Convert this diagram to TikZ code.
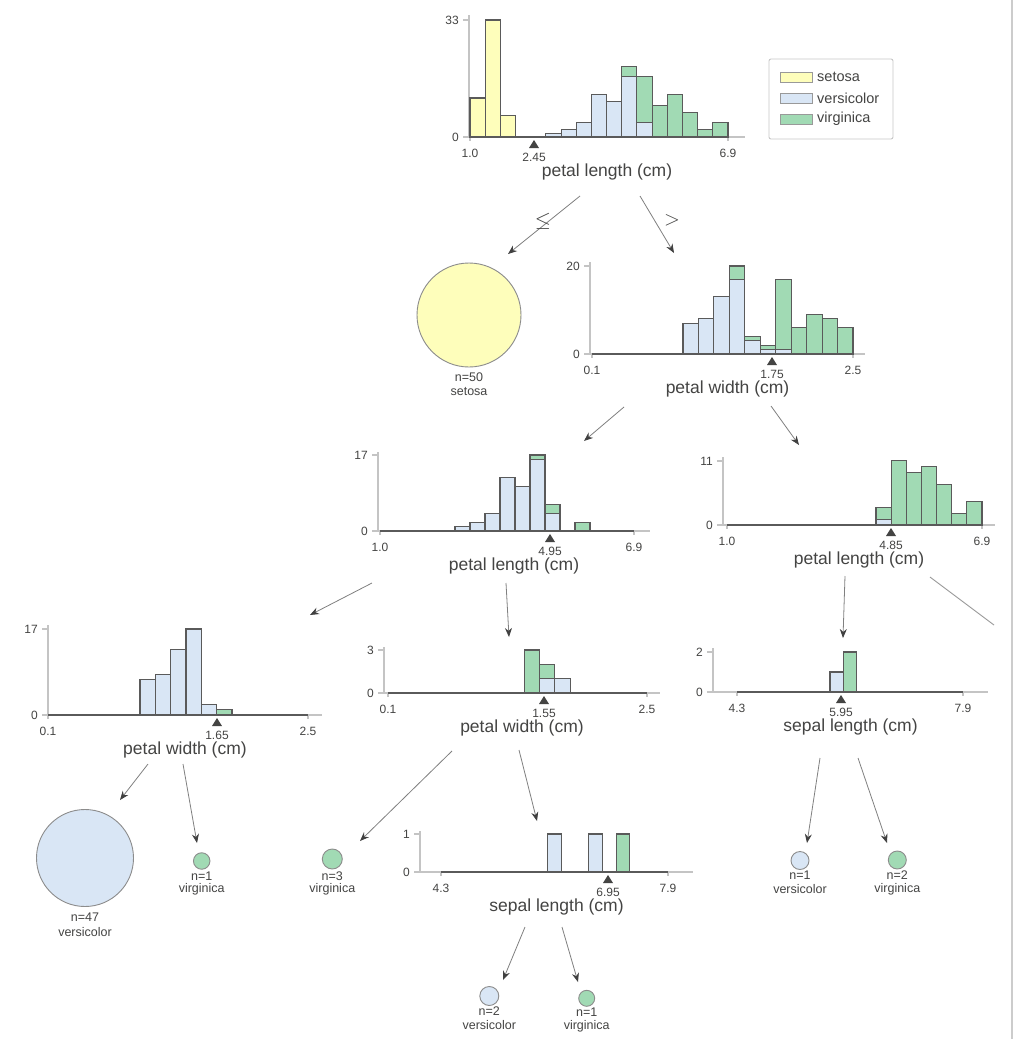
\documentclass[tikz,border=0pt]{standalone}
\usepackage{fontspec}
\setmainfont{Liberation Sans}
\usetikzlibrary{arrows.meta}
\definecolor{cset}{HTML}{FEFEBB}
\definecolor{cver}{HTML}{D9E6F5}
\definecolor{cvir}{HTML}{A1DAB4}
\definecolor{txt}{HTML}{444443}
\definecolor{edgec}{HTML}{5A5A5A}
\definecolor{axc}{HTML}{C4C4C4}
\definecolor{arrc}{HTML}{808080}
\tikzset{
 bar/.style={draw=edgec, line width=1.1pt},
 axisline/.style={draw=axc, line width=1.2pt},
 zeroline/.style={draw=edgec, line width=1.4pt},
 ticklab/.style={font=\fontsize{12}{12}\selectfont, text=txt, inner sep=0pt},
 axtitle/.style={font=\fontsize{17.5}{18}\selectfont, text=txt, inner sep=0pt},
 leaftext/.style={font=\fontsize{12.5}{13}\selectfont, text=txt, inner sep=0pt},
 legtext/.style={font=\fontsize{14.5}{15}\selectfont, text=txt, inner sep=0pt, anchor=west},
 leaf/.style={circle, draw=black!45, line width=0.9pt, inner sep=0pt},
 conn/.style={draw=arrc, line width=0.8pt, -{Stealth[length=9pt,width=7pt,color=black!75]}},
 plainconn/.style={draw=arrc!80, line width=0.9pt},
 cmpsign/.style={font=\fontsize{22}{22}\selectfont, text=txt, inner sep=0pt},
}
% #1 x0, #2 width, #3 base, #4 px per unit, #5 setosa, #6 versicolor, #7 virginica
\newcommand\irisbar[7]{%
 \pgfmathsetmacro\irisxa{#1+#2}%
 \pgfmathsetmacro\irisya{#3-#4*#5}%
 \pgfmathsetmacro\irisyb{\irisya-#4*#6}%
 \pgfmathsetmacro\irisyc{\irisyb-#4*#7}%
 \ifnum#5>0 \draw[bar,fill=cset] (#1,#3) rectangle (\irisxa,\irisya);\fi
 \ifnum#6>0 \draw[bar,fill=cver] (#1,\irisya) rectangle (\irisxa,\irisyb);\fi
 \ifnum#7>0 \draw[bar,fill=cvir] (#1,\irisyb) rectangle (\irisxa,\irisyc);\fi
}
% #1 name, #2 ax, #3 top, #4 base, #5 xend, #6 xmin, #7 xmax, #8 top tick y, #9 top label
\newcommand\irisaxes[9]{%
 \def\irisax{#2}\def\irisxend{#5}%
 \draw[axisline] (#2,#3) -- (#2,#4) -- (#5,#4);
 \draw[axisline] (#2-6,#8) -- (#2,#8);
 \draw[axisline] (#2-6,#4) -- (#2,#4);
 \draw[axisline] (#6,#4) -- (#6,#4+4);
 \draw[axisline] (#7,#4) -- (#7,#4+4);
 \node[ticklab,anchor=east] (#1-ytop) at (#2-10,#8) {#9};
 \node[ticklab,anchor=east] (#1-yzero) at (#2-10,#4) {0};
 \draw[zeroline] (#6,#4) -- (#7,#4);
}
% #1 name, #2 xmin, #3 xmax, #4 base, #5 lmin, #6 lmax, #7 xsplit, #8 lsplit, #9 title
\newcommand\irisxlabs[9]{%
 \node[ticklab] (#1-lo) at (#2,#4+16) {#5};
 \node[ticklab] (#1-hi) at (#3,#4+16) {#6};
 \fill[txt] (#7,#4+3) -- (#7+5,#4+11) -- (#7-5,#4+11) -- cycle;
 \node[ticklab] (#1-split) at (#7,#4+20) {#8};
 \node[axtitle] (#1) at (\irisax/2+\irisxend/2,#4+35) {#9};
}
\begin{document}
\begin{tikzpicture}[x=1pt,y=-1pt]
\useasboundingbox (0,0) rectangle (1014,1039);
\fill[white] (0,0) rectangle (1014,1039);
\draw[draw=black!20, line width=2pt] (1011.5,0) -- (1011.5,1039);

% ---------- Panel 1: root, petal length
\irisaxes{p1}{469}{15}{137}{745}{470}{728}{20}{33}
\foreach \i/\ny/\nb/\ng in {0/11/0/0,1/33/0/0,2/6/0/0,5/0/1/0,6/0/2/0,7/0/4/0,8/0/12/0,9/0/10/0,10/0/17/3,11/0/4/13,12/0/0/9,13/0/0/12,14/0/0/7,15/0/0/2,16/0/0/4}{%
 \pgfmathsetmacro\xo{470+\i*15.176}\irisbar{\xo}{15.176}{137}{3.545}{\ny}{\nb}{\ng}}
\irisxlabs{p1}{470}{728}{137}{1.0}{6.9}{534}{2.45}{petal length (cm)}

% legend
\draw[draw=black!22, line width=0.9pt, fill=white, rounded corners=2pt] (769,59) rectangle (893,139);
\draw[draw=black!40, line width=0.8pt, fill=cset] (780,72) rectangle (812,82);
\draw[draw=black!40, line width=0.8pt, fill=cver] (780,93) rectangle (812,103);
\draw[draw=black!40, line width=0.8pt, fill=cvir] (780,114) rectangle (812,124);
\node[legtext] (lg1) at (817,77) {setosa};
\node[legtext] (lg2) at (817,98) {versicolor};
\node[legtext] (lg3) at (817,119) {virginica};

% ---------- Panel 2: petal width
\irisaxes{p2}{590}{262}{354}{865}{592}{853}{266}{20}
\foreach \i/\ny/\nb/\ng in {0/0/7/0,1/0/8/0,2/0/13/0,3/0/17/3,4/0/3/1,5/0/1/1,6/0/1/16,7/0/0/6,8/0/0/9,9/0/0/8,10/0/0/6}{%
 \pgfmathsetmacro\xo{683+\i*15.45}\irisbar{\xo}{15.45}{354}{4.4}{\ny}{\nb}{\ng}}
\irisxlabs{p2}{592}{853}{354}{0.1}{2.5}{772}{1.75}{petal width (cm)}

% ---------- Panel 3: petal length (left)
\irisaxes{p3}{378}{452}{531}{650}{380}{634}{455}{17}
\foreach \i/\ny/\nb/\ng in {0/0/1/0,1/0/2/0,2/0/4/0,3/0/12/0,4/0/10/0,5/0/16/1,6/0/4/2,8/0/0/2}{%
 \pgfmathsetmacro\xo{455+\i*15}\irisbar{\xo}{15}{531}{4.47}{\ny}{\nb}{\ng}}
\irisxlabs{p3}{380}{634}{531}{1.0}{6.9}{550}{4.95}{petal length (cm)}

% ---------- Panel 4: petal length (right)
\irisaxes{p4}{723}{457}{525}{995}{727}{982}{461}{11}
\foreach \i/\ny/\nb/\ng in {0/0/1/2,1/0/0/11,2/0/0/9,3/0/0/10,4/0/0/7,5/0/0/2,6/0/0/4}{%
 \pgfmathsetmacro\xo{876+\i*15.14}\irisbar{\xo}{15.14}{525}{5.85}{\ny}{\nb}{\ng}}
\irisxlabs{p4}{727}{982}{525}{1.0}{6.9}{891}{4.85}{petal length (cm)}

% ---------- Panel 5: petal width
\irisaxes{p5}{48}{625}{715}{322}{48}{308}{629}{17}
\foreach \i/\ny/\nb/\ng in {0/0/7/0,1/0/8/0,2/0/13/0,3/0/17/0,4/0/2/0,5/0/0/1}{%
 \pgfmathsetmacro\xo{140+\i*15.33}\irisbar{\xo}{15.33}{715}{5.06}{\ny}{\nb}{\ng}}
\irisxlabs{p5}{48}{308}{715}{0.1}{2.5}{217}{1.65}{petal width (cm)}

% ---------- Panel 6: petal width
\irisaxes{p6}{384}{647}{693}{660}{388}{647}{650}{3}
\foreach \i/\ny/\nb/\ng in {0/0/0/3,1/0/1/1,2/0/1/0}{%
 \pgfmathsetmacro\xo{524.5+\i*15.2}\irisbar{\xo}{15.2}{693}{14.33}{\ny}{\nb}{\ng}}
\irisxlabs{p6}{388}{647}{693}{0.1}{2.5}{544}{1.55}{petal width (cm)}

% ---------- Panel 7: sepal length
\irisaxes{p7}{713}{648}{692}{988}{737}{963}{652}{2}
\foreach \i/\ny/\nb/\ng in {0/0/1/0,1/0/0/2}{%
 \pgfmathsetmacro\xo{830+\i*13.4}\irisbar{\xo}{13.4}{692}{20}{\ny}{\nb}{\ng}}
\irisxlabs{p7}{737}{963}{692}{4.3}{7.9}{841}{5.95}{sepal length (cm)}

% ---------- Panel 8: sepal length
\irisaxes{p8}{420}{831}{872}{693}{441}{668}{834}{1}
\foreach \i/\ny/\nb/\ng in {0/0/1/0,3/0/1/0,5/0/0/1}{%
 \pgfmathsetmacro\xo{547.7+\i*13.7}\irisbar{\xo}{13.7}{872}{38}{\ny}{\nb}{\ng}}
\irisxlabs{p8}{441}{668}{872}{4.3}{7.9}{608}{6.95}{sepal length (cm)}

% ---------- Leaves
\node[leaf, fill=cset, minimum size=104pt] (l1) at (469,315) {};
\node[leaftext] (l1n) at (469,377) {n=50};
\node[leaftext] (l1c) at (469,392) {setosa};
\node[leaf, fill=cver, minimum size=97pt] (l2) at (85,858) {};
\node[leaftext] (l2n) at (85,917) {n=47};
\node[leaftext] (l2c) at (85,932) {versicolor};
\node[leaf, fill=cvir, minimum size=16.5pt] (l3) at (201.7,861) {};
\node[leaftext] (l3n) at (201.7,876) {n=1};
\node[leaftext] (l3c) at (201.7,889) {virginica};
\node[leaf, fill=cvir, minimum size=20pt] (l4) at (332.3,859) {};
\node[leaftext] (l4n) at (332.3,876) {n=3};
\node[leaftext] (l4c) at (332.3,889) {virginica};
\node[leaf, fill=cver, minimum size=18pt] (l5) at (800,860.5) {};
\node[leaftext] (l5n) at (800,875.5) {n=1};
\node[leaftext] (l5c) at (800,889) {versicolor};
\node[leaf, fill=cvir, minimum size=18pt] (l6) at (897.3,860) {};
\node[leaftext] (l6n) at (897.3,875.5) {n=2};
\node[leaftext] (l6c) at (897.3,889) {virginica};
\node[leaf, fill=cver, minimum size=19pt] (l7) at (489.3,996) {};
\node[leaftext] (l7n) at (489.3,1011.5) {n=2};
\node[leaftext] (l7c) at (489.3,1025) {versicolor};
\node[leaf, fill=cvir, minimum size=16pt] (l8) at (586.7,998.3) {};
\node[leaftext] (l8n) at (586.7,1012) {n=1};
\node[leaftext] (l8c) at (586.7,1026) {virginica};

% ---------- Connectors
\coordinate (a1s) at (580,196);  \coordinate (a1e) at (508,254);
\coordinate (a2s) at (640,196);  \coordinate (a2e) at (674,253);
\coordinate (a3s) at (624,407);  \coordinate (a3e) at (584,441);
\coordinate (a4s) at (771,406);  \coordinate (a4e) at (799,445);
\coordinate (a5s) at (372,583);  \coordinate (a5e) at (310,615);
\coordinate (a6s) at (506,583);  \coordinate (a6e) at (509,637);
\coordinate (a7s) at (845,576);  \coordinate (a7e) at (843,638);
\coordinate (a8s) at (930,577);  \coordinate (a8e) at (994,625);
\coordinate (a9s) at (148,764);  \coordinate (a9e) at (120,800);
\coordinate (a10s) at (183,764); \coordinate (a10e) at (197,843);
\coordinate (a11s) at (452,751); \coordinate (a11e) at (360,841);
\coordinate (a12s) at (519,750); \coordinate (a12e) at (537,821);
\coordinate (a13s) at (820,758); \coordinate (a13e) at (807,843);
\coordinate (a14s) at (858,758); \coordinate (a14e) at (887,843);
\coordinate (a15s) at (525,927); \coordinate (a15e) at (503,980);
\coordinate (a16s) at (562,927); \coordinate (a16e) at (578,982);
\foreach \k in {1,2,3,4,5,6,7,9,10,11,12,13,14,15,16}{\draw[conn] (a\k s) -- (a\k e);}
\draw[plainconn] (a8s) -- (a8e);

\node[cmpsign] (le) at (543,221) {$\leq$};
\node[cmpsign] (gt) at (672,220) {$>$};
\end{tikzpicture}
\end{document}
